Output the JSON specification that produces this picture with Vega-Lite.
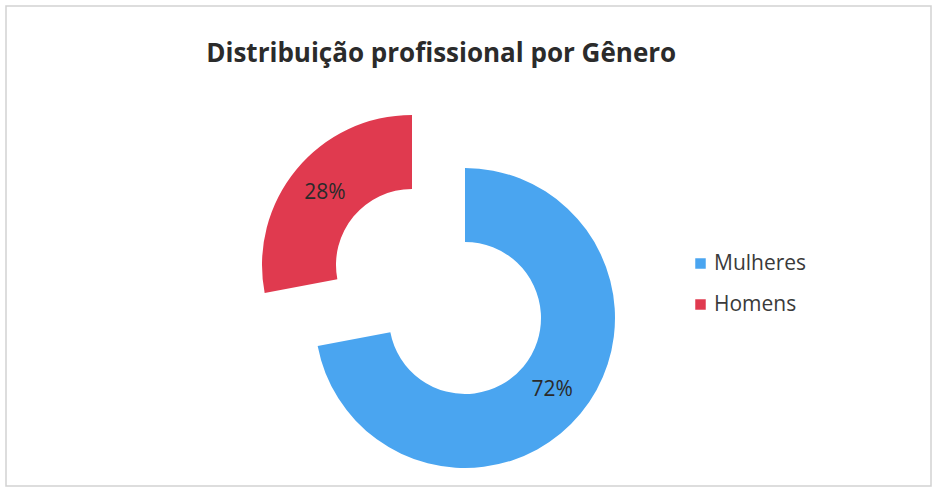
{
  "$schema": "https://vega.github.io/schema/vega-lite/v6.json",
  "width": 936,
  "height": 495,
  "autosize": {"type": "fit", "contains": "padding"},
  "padding": {"left": 5, "top": 5, "right": 4, "bottom": 8},
  "background": "white",
  "config": {
    "view": {"stroke": null},
    "font": "Open Sans"
  },
  "title": {
    "text": "Distribuição profissional por Gênero",
    "font": "Open Sans",
    "fontSize": 26,
    "fontWeight": "bold",
    "color": "#2b2b2b",
    "anchor": "start",
    "dx": 201,
    "offset": -62
  },
  "data": {
    "values": [
      {"categoria": "Mulheres", "valor": 0.72},
      {"categoria": "Homens", "valor": 0.28}
    ]
  },
  "layer": [
    {
      "data": {"values": [{"quadro": "borda"}]},
      "mark": {"type": "rect", "filled": false, "stroke": "#d2d2d2", "strokeWidth": 1.5},
      "encoding": {}
    },
    {
      "mark": {"type": "arc", "radius": 150, "innerRadius": 76, "xOffset": -3.5, "yOffset": 72},
      "encoding": {
        "theta": {"field": "valor", "type": "quantitative", "stack": true},
        "order": {"field": "categoria", "sort": "descending"},
        "color": {
          "field": "categoria",
          "type": "nominal",
          "scale": {"domain": ["Mulheres", "Homens"], "range": ["#4aa5f0", "#e03a4f"]},
          "legend": {
            "title": null,
            "orient": "none",
            "legendX": 684,
            "legendY": 247,
            "padding": 0,
            "symbolType": "square",
            "symbolSize": 110,
            "symbolStrokeWidth": 0,
            "symbolOpacity": 1,
            "labelFont": "Open Sans",
            "labelFontSize": 21,
            "labelColor": "#3a3a3a",
            "labelOffset": 3,
            "rowPadding": 19
          }
        },
        "opacity": {"condition": {"test": "datum.categoria === 'Homens'", "value": 0}, "value": 1}
      }
    },
    {
      "mark": {"type": "arc", "radius": 150, "innerRadius": 76, "xOffset": -56.5, "yOffset": 19},
      "encoding": {
        "theta": {"field": "valor", "type": "quantitative", "stack": true},
        "order": {"field": "categoria", "sort": "descending"},
        "color": {"field": "categoria", "type": "nominal"},
        "opacity": {"condition": {"test": "datum.categoria === 'Mulheres'", "value": 0}, "value": 1}
      }
    },
    {
      "mark": {"type": "text", "radius": 113, "xOffset": -3.5, "yOffset": 72, "font": "Open Sans", "fontSize": 21},
      "encoding": {
        "theta": {"field": "valor", "type": "quantitative", "stack": true},
        "order": {"field": "categoria", "sort": "descending"},
        "text": {"field": "valor", "type": "quantitative", "format": ".0%"},
        "color": {"value": "#2a2a2a"},
        "opacity": {"condition": {"test": "datum.categoria === 'Homens'", "value": 0}, "value": 1}
      }
    },
    {
      "mark": {"type": "text", "radius": 113, "xOffset": -56.5, "yOffset": 19, "font": "Open Sans", "fontSize": 21},
      "encoding": {
        "theta": {"field": "valor", "type": "quantitative", "stack": true},
        "order": {"field": "categoria", "sort": "descending"},
        "text": {"field": "valor", "type": "quantitative", "format": ".0%"},
        "color": {"value": "#2a2a2a"},
        "opacity": {"condition": {"test": "datum.categoria === 'Mulheres'", "value": 0}, "value": 1}
      }
    }
  ]
}
